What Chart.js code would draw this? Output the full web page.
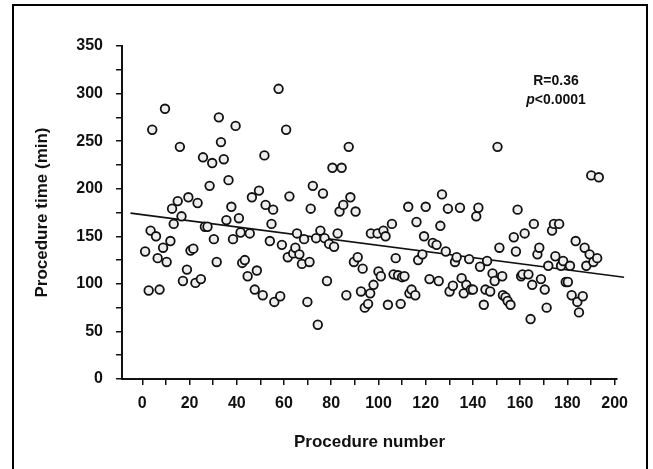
<!DOCTYPE html>
<html>
<head>
<meta charset="utf-8">
<script src="https://cdn.jsdelivr.net/npm/chart.js@4/dist/chart.umd.min.js"></script>
<style>
  html, body { margin: 0; padding: 0; background: #fff; overflow: hidden; }
  #wrap { position: relative; width: 653px; height: 469px; }
  #frame {
    position: absolute; left: 12px; top: 4px; width: 636px; height: 480px;
    box-sizing: border-box; border: 2px solid #000; border-bottom: none;
    pointer-events: none;
  }
  canvas { position: absolute; left: 0; top: 0; }
</style>
</head>
<body>
<div id="wrap">
  <canvas id="chart" width="653" height="469"></canvas>
  <div id="frame"></div>
</div>
<script>
// procedure number vs procedure time (min)
const procNumber = [
  1.2, 2.7, 3.5, 4.2, 5.8, 6.5, 7.3, 8.8, 9.6, 10.3, 11.9, 12.6, 13.3, 15, 15.9, 16.6, 17.2, 18.9, 19.5, 20.4,
  21.6, 22.5, 23.4, 24.8, 25.7, 26.5, 27.6, 28.5, 29.6, 30.3, 31.5, 32.4, 33.3, 34.5, 35.6, 36.5, 37.7, 38.4, 39.5, 40.9,
  41.6, 42.3, 43.4, 44.6, 45.5, 46.4, 47.6, 48.5, 49.4, 51, 51.7, 52.2, 54, 54.7, 55.4, 55.9, 57.7, 58.4, 59.1, 60.9,
  61.6, 62.3, 63.9, 64.8, 65.5, 66.5, 67.6, 68.5, 69.9, 70.8, 71.3, 72.2, 73.6, 74.3, 75.4, 76.5, 77.2, 78.2, 79.1, 80.5,
  81.2, 82.7, 83.5, 84.4, 85.1, 86.4, 87.4, 88.1, 89.6, 90.3, 91.2, 92.6, 93.3, 94.2, 95.6, 96.5, 96.8, 97.9, 99.6, 100,
  101, 102.1, 103, 104, 105.7, 106.4, 107.3, 108.3, 109.4, 110, 111, 112.6, 113.1, 114, 115.6, 116.1, 116.8, 118.6, 119.3, 120,
  121.6, 123, 124.6, 125.5, 126.2, 126.9, 128.5, 129.4, 130.1, 131.5, 132.4, 133.1, 134.5, 135.2, 136.1, 137.2, 138.4, 139.1, 140, 141.4,
  142.3, 143, 144.6, 145.3, 146, 147.3, 148.3, 149.2, 150.4, 151.2, 152.4, 152.7, 153.8, 154.7, 155.9, 157.3, 158.2, 158.9, 160.4, 161,
  161.9, 163.5, 164.4, 165.1, 165.8, 167.3, 168.1, 168.8, 170.4, 171.2, 171.9, 173.5, 174.3, 174.9, 176.5, 177.3, 178.2, 179.3, 180.2, 181.1,
  181.8, 183.5, 184.2, 184.9, 186.5, 187.3, 188, 189.4, 190.1, 191, 192.6, 193.3
];
const procTime = [
  134, 93, 156, 262, 150, 127, 94, 138, 284, 123, 145, 179, 163, 187, 244, 171, 103, 115, 191, 135,
  137, 101, 185, 105, 233, 160, 160, 203, 227, 147, 123, 275, 249, 231, 167, 209, 181, 147, 266, 169,
  154, 122, 125, 108, 153, 191, 94, 114, 198, 88, 235, 183, 145, 163, 178, 81, 305, 87, 141, 262,
  128, 192, 132, 138, 153, 131, 121, 147, 81, 123, 179, 203, 148, 57, 156, 195, 148, 103, 142, 222,
  139, 153, 176, 222, 183, 88, 244, 191, 123, 176, 128, 92, 116, 75, 79, 90, 153, 99, 153, 113,
  108, 156, 150, 78, 163, 110, 127, 109, 79, 107, 108, 181, 90, 94, 88, 165, 125, 131, 150, 181,
  105, 143, 141, 103, 161, 194, 134, 179, 92, 98, 123, 128, 180, 106, 90, 99, 126, 94, 94, 171,
  180, 118, 78, 94, 124, 92, 111, 103, 244, 138, 108, 88, 86, 82, 78, 149, 134, 178, 108, 110,
  153, 110, 63, 99, 163, 131, 138, 105, 94, 75, 119, 156, 163, 129, 163, 119, 124, 102, 102, 119,
  88, 145, 81, 70, 87, 138, 119, 131, 214, 123, 127, 212
];
// fitted regression line (two ends)
const fitX = [-5, 204];
const fitY = [174.3, 107];

const xTicks = [];
for (let v = 0; v <= 200; v += 10) xTicks.push(v);
const yTicks = [];
for (let v = 0; v <= 350; v += 25) yTicks.push(v);

const statLines = ['R=0.36', 'p<0.0001'];

const points = procNumber.map((x, i) => ({ x: x, y: procTime[i] }));
const fitLine = fitX.map((x, i) => ({ x: x, y: fitY[i] }));

const statsText = {
  id: 'statsText',
  afterDraw(chart) {
    const ctx = chart.ctx;
    ctx.save();
    ctx.fillStyle = '#111';
    ctx.textBaseline = 'middle';
    ctx.textAlign = 'center';
    ctx.font = 'bold 14px "Liberation Sans", Arial, sans-serif';
    ctx.fillText(statLines[0], 556, 81);
    // p in italic, rest upright
    const rest = statLines[1].slice(1);
    const wRest = ctx.measureText(rest).width;
    ctx.font = 'italic bold 14px "Liberation Sans", Arial, sans-serif';
    const wP = ctx.measureText('p').width;
    const start = 556 - (wP + wRest) / 2;
    ctx.textAlign = 'left';
    ctx.fillText('p', start, 100);
    ctx.font = 'bold 14px "Liberation Sans", Arial, sans-serif';
    ctx.fillText(rest, start + wP, 100);
    ctx.restore();
  }
};

const tickFont = { family: '"Liberation Sans", Arial, sans-serif', size: 16, weight: 'bold' };
const titleFont = { family: '"Liberation Sans", Arial, sans-serif', size: 17, weight: 'bold' };

new Chart(document.getElementById('chart'), {
  type: 'scatter',
  data: {
    datasets: [
      {
        data: points,
        pointRadius: 4.3,
        pointBorderWidth: 1.8,
        borderColor: '#111',
        backgroundColor: '#eeeeee',
        order: 1
      },
      {
        type: 'line',
        data: fitLine,
        borderColor: '#111',
        borderWidth: 1.6,
        pointRadius: 0,
        fill: false,
        clip: false,
        order: 2
      }
    ]
  },
  plugins: [statsText],
  options: {
    responsive: false,
    animation: false,
    events: [],
    layout: { padding: { left: 0, right: 36, top: 46, bottom: 0 } },
    plugins: {
      legend: { display: false },
      tooltip: { enabled: false }
    },
    scales: {
      x: {
        type: 'linear',
        min: -8.6,
        max: 201,
        afterBuildTicks: (s) => { s.ticks = xTicks.map(v => ({ value: v })); },
        afterFit: (s) => { s.height = 90; },
        ticks: {
          autoSkip: false,
          maxRotation: 0,
          padding: 9,
          color: '#111',
          font: tickFont,
          callback: (v) => (v % 20 === 0 ? v : '')
        },
        grid: { drawOnChartArea: false, drawTicks: true, tickLength: 6, color: '#111', lineWidth: 1.5 },
        border: { display: true, color: '#111', width: 2 },
        title: { display: true, text: 'Procedure number', color: '#111', font: titleFont, padding: { top: 0, bottom: 16 } }
      },
      y: {
        type: 'linear',
        min: 0,
        max: 350,
        afterBuildTicks: (s) => { s.ticks = yTicks.map(v => ({ value: v })); },
        afterFit: (s) => { s.width = 122; },
        ticks: {
          autoSkip: false,
          padding: 13,
          color: '#111',
          font: tickFont,
          callback: (v) => (v % 50 === 0 ? v : '')
        },
        grid: { drawOnChartArea: false, drawTicks: true, tickLength: 6, color: '#111', lineWidth: 1.5 },
        border: { display: true, color: '#111', width: 2 },
        title: { display: true, text: 'Procedure time (min)', color: '#111', font: titleFont, padding: { top: 32, bottom: 0 } }
      }
    }
  }
});
</script>
</body>
</html>
